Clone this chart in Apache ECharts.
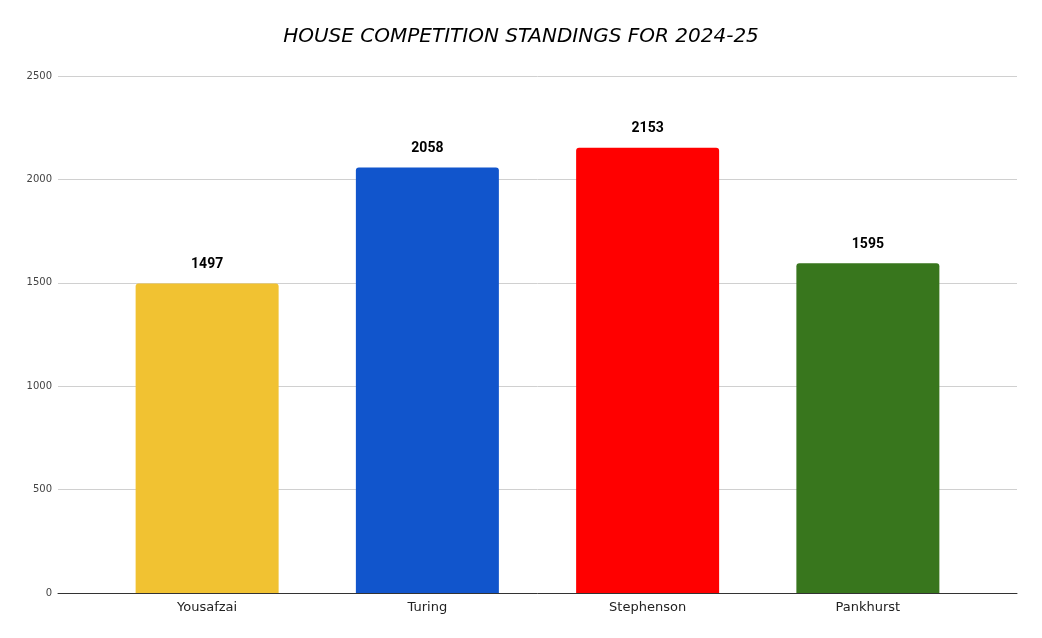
<!DOCTYPE html>
<html>
<head>
<meta charset="utf-8" />
<title>House Competition</title>
<script src="https://cdn.jsdelivr.net/npm/echarts@6/dist/echarts.min.js"></script>
<style>
  * { margin: 0; padding: 0; }
  html, body { width: 100%; height: 100%; background: #fff; }
</style>
</head>
<body>
<div id="main" style="width:1042px;height:638px;"></div>
<script>
// houses and points
const houses = ['Yousafzai', 'Turing', 'Stephenson', 'Pankhurst'];
const points = [1497, 2058, 2153, 1595];
const houseColors = ['#F1C232', '#1155CC', '#FF0000', '#38761D'];
const yMax = 2500;
const yStep = 500;

const chart = echarts.init(document.getElementById('main'));

// grid 0: full-width frame (gridlines, y labels, baseline)
// grid 1: inset grid that holds the bars, like the original's padded category band
const option = {
  backgroundColor: '#fff',
  animation: false,
  title: {
    text: 'HOUSE COMPETITION STANDINGS FOR 2024-25',
    left: 'center',
    top: 22,
    textStyle: {
      fontFamily: 'DejaVu Sans',
      fontStyle: 'italic',
      fontWeight: 'normal',
      fontSize: 20,
      color: '#000'
    }
  },
  grid: [
    { left: 58, right: 25, top: 76, bottom: 45 },
    { left: 97, right: 64, top: 76, bottom: 45 }
  ],
  xAxis: [
    {
      gridIndex: 0,
      type: 'value',
      min: 0,
      max: 1,
      axisLine: { show: true, onZero: false, lineStyle: { color: '#333', width: 1 } },
      axisTick: { show: false },
      axisLabel: { show: false },
      splitLine: { show: false }
    },
    {
      gridIndex: 1,
      type: 'category',
      data: houses,
      axisLine: { show: false },
      axisTick: { show: false },
      axisLabel: { fontFamily: 'DejaVu Sans', fontSize: 13, color: '#222', margin: 8 }
    }
  ],
  yAxis: [
    {
      gridIndex: 0,
      type: 'value',
      min: 0,
      max: yMax,
      interval: yStep,
      axisLine: { show: false },
      axisTick: { show: false },
      axisLabel: {
        fontFamily: 'DejaVu Sans', fontSize: 10, color: '#444', margin: 6,
        formatter: v => String(v)
      },
      splitLine: { lineStyle: { color: '#d0d0d0' } }
    },
    {
      gridIndex: 1,
      type: 'value',
      min: 0,
      max: yMax,
      interval: yStep,
      axisLine: { show: false },
      axisTick: { show: false },
      axisLabel: { show: false },
      splitLine: { show: false }
    }
  ],
  series: [{
    type: 'bar',
    xAxisIndex: 1,
    yAxisIndex: 1,
    z: 3,
    data: points.map((v, i) => ({ value: v, itemStyle: { color: houseColors[i] } })),
    barWidth: 143,
    itemStyle: { borderRadius: [3, 3, 0, 0] },
    label: {
      show: true,
      position: 'top',
      distance: 12,
      fontFamily: 'Roboto',
      fontWeight: 'bold',
      fontSize: 14,
      color: '#000'
    }
  }]
};

chart.setOption(option);
</script>
</body>
</html>
